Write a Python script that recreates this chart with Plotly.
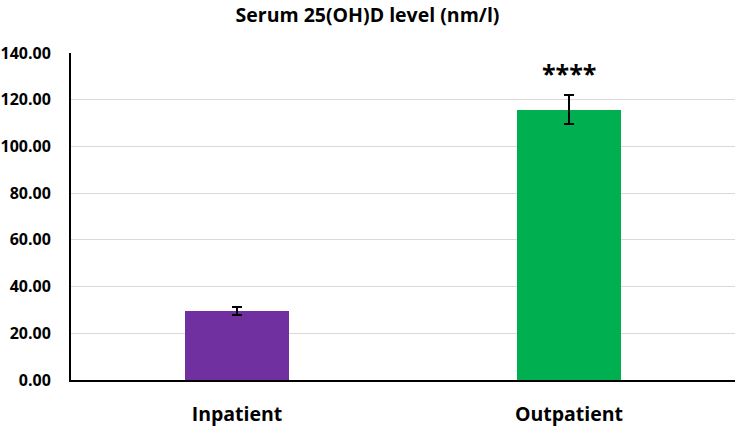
import plotly.graph_objects as go

# data
categories = ["Inpatient", "Outpatient"]
means = [29.5, 115.8]
errors = [1.6, 6.2]
colors = ["#7030A0", "#00B050"]
y_ticks = [0, 20, 40, 60, 80, 100, 120, 140]

fig = go.Figure(
    go.Bar(
        x=categories,
        y=means,
        width=0.313,
        marker=dict(color=colors, line=dict(width=0)),
        error_y=dict(type="data", array=errors, color="black", thickness=2, width=5),
    )
)

fig.add_annotation(
    x="Outpatient", y=means[1] + errors[1] + 1.5, text="<b>****</b>",
    showarrow=False, yanchor="bottom", font=dict(size=25, color="black"),
)

fig.update_layout(
    width=735, height=426,
    margin=dict(l=71, r=0, t=53, b=46, autoexpand=False),
    plot_bgcolor="white", paper_bgcolor="white",
    font=dict(family="Open Sans", color="black"),
    title=dict(text="<b>Serum 25(OH)D level (nm/l)</b>", x=0.5, y=0.965,
               xanchor="center", yanchor="middle", font=dict(size=19.5)),
    showlegend=False,
    bargap=0.0,
)

fig.update_xaxes(
    automargin=False,
    showline=True, linecolor="black", linewidth=2,
    tickvals=categories, ticktext=[f"<b>{c}</b>" for c in categories],
    tickfont=dict(size=19.5), ticks="outside", ticklen=16, tickcolor="rgba(0,0,0,0)",
)
fig.update_yaxes(
    automargin=False,
    range=[0, 140], tickvals=y_ticks,
    ticktext=[f"<b>{v:.2f}</b>" for v in y_ticks],
    tickfont=dict(size=16),
    showline=True, linecolor="black", linewidth=2,
    showgrid=True, gridcolor="#D9D9D9", gridwidth=1,
    zeroline=False, ticks="", ticklabelstandoff=15,
)

# drop the browser's default body margin so the figure fills the window
fig.write_html(
    "out.html",
    config={"displayModeBar": False},
    post_script="document.body.style.margin='0';",
)
